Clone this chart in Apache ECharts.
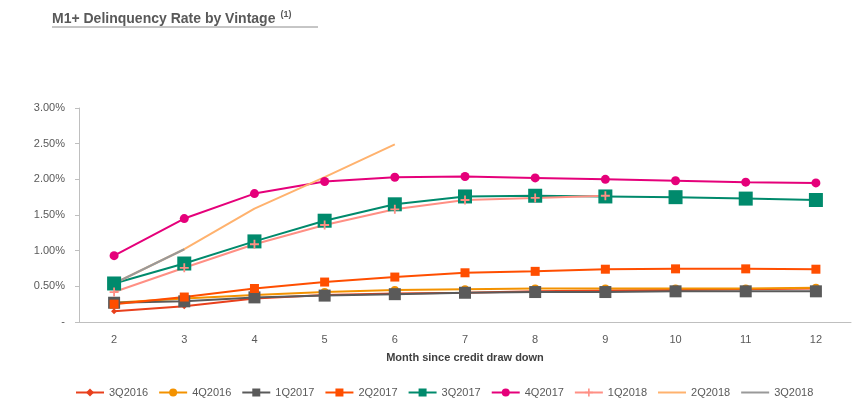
<!DOCTYPE html>
<html>
<head>
<meta charset="utf-8">
<script src="https://cdn.jsdelivr.net/npm/echarts@6/dist/echarts.min.js"></script>
<style>
  html, body { margin: 0; padding: 0; background: #fff; }
  #chart { width: 858px; height: 420px; }
</style>
</head>
<body>
<div id="chart"></div>
<script>
// months since credit draw down
var months = ["2", "3", "4", "5", "6", "7", "8", "9", "10", "11", "12"];
var yTicks = [0, 0.5, 1, 1.5, 2, 2.5, 3];

// delinquency rate (%) per vintage
var q3_2016 = [0.15, 0.22, 0.33, 0.38, 0.40, 0.41, 0.43, 0.44, 0.45, 0.46, 0.47];
var q4_2016 = [0.27, 0.33, 0.38, 0.42, 0.45, 0.46, 0.47, 0.47, 0.47, 0.47, 0.48];
var q1_2017 = [0.27, 0.29, 0.345, 0.37, 0.39, 0.41, 0.42, 0.42, 0.43, 0.43, 0.43];
var q2_2017 = [0.25, 0.35, 0.47, 0.56, 0.63, 0.69, 0.71, 0.74, 0.745, 0.745, 0.74];
var q3_2017 = [0.54, 0.82, 1.13, 1.42, 1.65, 1.76, 1.77, 1.76, 1.75, 1.73, 1.71];
var q4_2017 = [0.93, 1.45, 1.80, 1.97, 2.03, 2.04, 2.02, 2.00, 1.98, 1.96, 1.95];
var q1_2018 = [0.42, 0.76, 1.09, 1.36, 1.58, 1.71, 1.74, 1.77];
var q2_2018 = [0.54, 1.02, 1.59, 2.03, 2.49];
var q3_2018 = [0.54, 1.02];

var plus = "path://M4,0H6V4H10V6H6V10H4V6H0V4H4Z";

function line(name, data, color, symbol, size) {
  var s = {
    name: name,
    type: "line",
    data: data,
    symbol: symbol,
    symbolSize: size,
    lineStyle: { color: color, width: 2 },
    itemStyle: { color: color },
    z: 2
  };
  if (!size) {
    // plain line, no markers (also hides the legend marker)
    s.showSymbol = false;
    s.itemStyle.opacity = 0;
  }
  return s;
}

var chart = echarts.init(document.getElementById("chart"));
chart.setOption({
  backgroundColor: "#fff",
  animation: false,
  title: {
    text: "{a|M1+ Delinquency Rate by Vintage} {b|(1)}",
    left: 52,
    top: 10,
    padding: 0,
    textStyle: {
      rich: {
        a: { fontFamily: "Liberation Sans", fontWeight: "bold", fontSize: 14, color: "#595959" },
        b: { fontFamily: "Liberation Sans", fontWeight: "bold", fontSize: 9, color: "#595959", verticalAlign: "top", padding: [0, 0, 6, 0] }
      }
    }
  },
  graphic: [
    { type: "line", shape: { x1: 52, y1: 27, x2: 318, y2: 27 }, style: { stroke: "#8c8c8c", lineWidth: 1 } }
  ],
  grid: { left: 79, right: 7, top: 108, bottom: 98 },
  legend: {
    bottom: 17,
    left: 70,
    itemWidth: 28,
    itemHeight: 10,
    itemGap: 10,
    textStyle: { fontFamily: "Liberation Sans", fontSize: 11, color: "#595959" }
  },
  xAxis: {
    type: "category",
    data: months,
    name: "Month since credit draw down",
    nameLocation: "middle",
    nameGap: 30,
    nameTextStyle: { fontFamily: "Liberation Sans", fontWeight: "bold", fontSize: 11, color: "#404040" },
    axisLine: { lineStyle: { color: "#bfbfbf", width: 1 } },
    axisTick: { show: false },
    axisLabel: { fontFamily: "Liberation Sans", fontSize: 11, color: "#595959", margin: 12 }
  },
  yAxis: {
    type: "value",
    min: yTicks[0],
    max: yTicks[yTicks.length - 1],
    interval: 0.5,
    axisLine: { show: true, lineStyle: { color: "#bfbfbf", width: 1 } },
    axisTick: { show: true, length: 4, lineStyle: { color: "#bfbfbf" } },
    splitLine: { show: false },
    axisLabel: {
      fontFamily: "Liberation Sans",
      fontSize: 11,
      color: "#595959",
      margin: 14,
      formatter: function (v) { return v === 0 ? "-" : v.toFixed(2) + "%"; }
    }
  },
  series: [
    line("3Q2016", q3_2016, "#e8401c", "diamond", 6),
    line("4Q2016", q4_2016, "#f39200", "circle", 8),
    line("1Q2017", q1_2017, "#5a5a5a", "rect", 12),
    line("2Q2017", q2_2017, "#ff4e00", "rect", 9),
    line("3Q2017", q3_2017, "#008a6c", "rect", 14),
    line("4Q2017", q4_2017, "#e5007a", "circle", 9),
    line("1Q2018", q1_2018, "#ff8f84", plus, 9),
    line("2Q2018", q2_2018, "#ffb26e", "circle", 0),
    line("3Q2018", q3_2018, "#999999", "circle", 0)
  ]
});
</script>
</body>
</html>
